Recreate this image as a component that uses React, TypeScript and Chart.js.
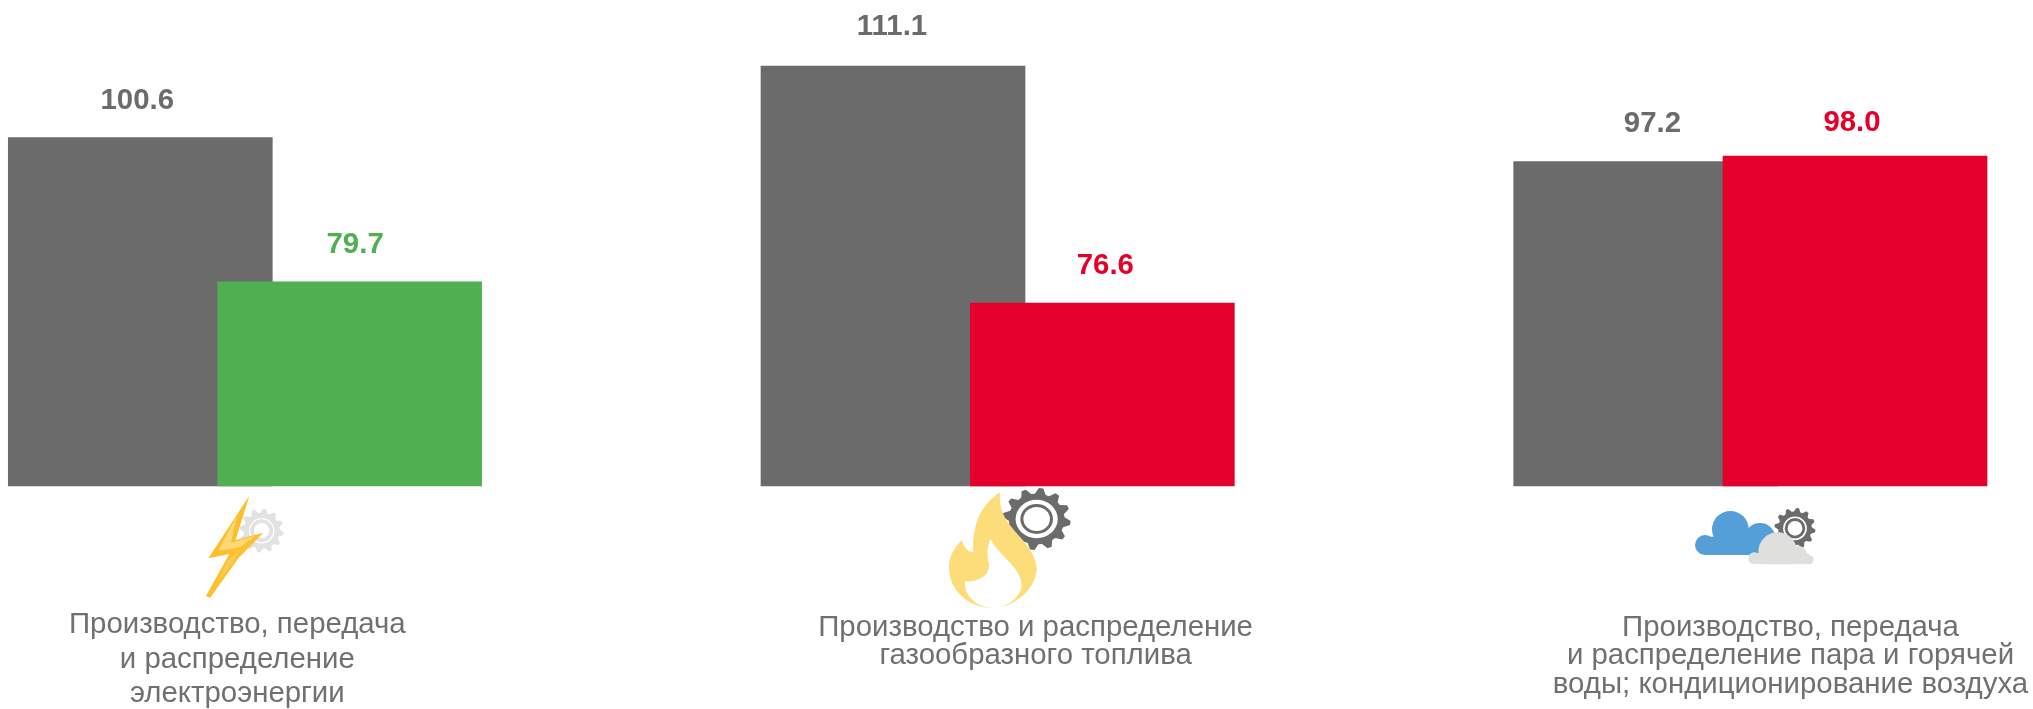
import React, { useEffect, useRef } from "react";
import { Chart, registerables } from "chart.js";

Chart.register(...registerables);

// Group positions on the x axis, one per industry.
const groupPositions = [0, 1, 2];
// The bars in the picture are not proportional to their printed numbers,
// so the printed numbers and the drawn heights are kept as separate lists.
const priorValues = ["100.6", "111.1", "97.2"];
const currentValues = ["79.7", "76.6", "98.0"];
const priorHeights = [100.7, 121.4, 93.8];
const currentHeights = [59.0, 52.9, 95.4];
const currentOffset = 0.2781;
const currentColors = ["#4faf51", "#e4002b", "#e4002b"];
const categoryLines = [
  ["Производство, передача", "и распределение", "электроэнергии"],
  ["Производство и распределение", "газообразного топлива"],
  ["Производство, передача", "и распределение пара и горячей", "воды; кондиционирование воздуха"],
];

const GREY = "#6b6b6b";
const TEXT = "#707070";
const FONT = '"Liberation Sans", Arial, sans-serif';
const W = 2033;
const H = 709;
const PX_PER_UNIT = 3.459;
const BASE_Y = 486;
const GROUP_PX = 752.7;
const FIRST_CENTER = 140.3;

const priorLabelShift = [[-3, -36.8], [-1, -39.5], [6.7, -37.4]];
const currentLabelShift = [[5.5, -36.9], [3, -36.8], [-3, -33.5]];
const categoryLayout = [
  { x: 237.3, ys: [625, 659.5, 694] },
  { x: 1035.6, ys: [627.5, 656] },
  { x: 1790.5, ys: [628, 656, 684.5] },
];

type Ctx = CanvasRenderingContext2D;

function gear(c: Ctx, cx: number, cy: number, rx: number, ry: number, color: string, teeth: number, ring: number[]) {
  c.fillStyle = color;
  c.beginPath();
  const n = teeth * 4;
  for (let i = 0; i < n; i++) {
    const a = ((i + 0.5) / n) * Math.PI * 2;
    const outer = i % 4 === 0 || i % 4 === 1;
    const r = outer ? 1 : 0.82;
    const x = cx + Math.cos(a) * rx * r;
    const y = cy + Math.sin(a) * ry * r;
    if (i === 0) c.moveTo(x, y);
    else c.lineTo(x, y);
  }
  c.closePath();
  c.fill();
  const fills = ["#ffffff", color, "#ffffff"];
  ring.forEach((f, i) => {
    c.fillStyle = fills[i];
    c.beginPath();
    c.ellipse(cx, cy, rx * f, ry * f, 0, 0, Math.PI * 2);
    c.fill();
  });
}

function poly(c: Ctx, ox: number, oy: number, pts: number[][], color: string) {
  c.fillStyle = color;
  c.beginPath();
  pts.forEach((p, i) => {
    const x = ox + p[0] / 3;
    const y = oy + p[1] / 3;
    if (i === 0) c.moveTo(x, y);
    else c.lineTo(x, y);
  });
  c.closePath();
  c.fill();
}

function bolt(c: Ctx) {
  const ox = 195;
  const oy = 490;
  gear(c, ox + 200 / 3, oy + 122 / 3, 22, 22, "#e2e2e2", 12, [0.58, 0.52, 0.35]);
  poly(c, ox, oy, [[163, 17], [40, 205], [103, 192], [33, 318], [45, 324], [130, 205], [205, 128], [122, 150]], "#fdbf2d");
  poly(c, ox, oy, [[125, 78], [70, 182], [135, 172], [180, 138], [108, 158]], "#fdd975");
  poly(c, ox, oy, [[95, 215], [135, 178], [115, 215], [70, 275]], "#fdcb4f");
}

function flame(c: Ctx) {
  const ox = 940;
  const oy = 484;
  const X = (v: number) => ox + v / 3;
  const Y = (v: number) => oy + v / 3;
  gear(c, X(290), Y(105), 34, 31, GREY, 12, [0.62, 0.48, 0.39]);
  c.fillStyle = "#fddc7a";
  c.beginPath();
  c.moveTo(X(180), Y(25));
  c.bezierCurveTo(X(175), Y(90), X(205), Y(120), X(250), Y(170));
  c.bezierCurveTo(X(285), Y(210), X(295), Y(250), X(288), Y(270));
  c.bezierCurveTo(X(275), Y(330), X(210), Y(372), X(160), Y(372));
  c.bezierCurveTo(X(85), Y(372), X(27), Y(320), X(27), Y(250));
  c.bezierCurveTo(X(27), Y(215), X(45), Y(190), X(65), Y(168));
  c.bezierCurveTo(X(72), Y(190), X(85), Y(205), X(100), Y(205));
  c.bezierCurveTo(X(95), Y(120), X(125), Y(60), X(180), Y(25));
  c.closePath();
  c.fill();
  c.fillStyle = "#ffffff";
  c.beginPath();
  c.moveTo(X(152), Y(165));
  c.bezierCurveTo(X(170), Y(210), X(245), Y(250), X(245), Y(305));
  c.bezierCurveTo(X(240), Y(345), X(195), Y(372), X(160), Y(372));
  c.bezierCurveTo(X(115), Y(372), X(72), Y(340), X(75), Y(292));
  c.bezierCurveTo(X(105), Y(295), X(150), Y(280), X(147), Y(240));
  c.bezierCurveTo(X(140), Y(215), X(140), Y(190), X(152), Y(165));
  c.closePath();
  c.fill();
}

function cloudShape(c: Ctx, ox: number, oy: number, circles: number[][], base: number[], color: string) {
  c.save();
  c.beginPath();
  c.rect(ox, oy, 140, base[3] / 3);
  c.clip();
  c.fillStyle = color;
  circles.forEach((k) => {
    c.beginPath();
    c.arc(ox + k[0] / 3, oy + k[1] / 3, k[2] / 3, 0, Math.PI * 2);
    c.fill();
  });
  c.fillRect(ox + base[0] / 3, oy + base[1] / 3, (base[2] - base[0]) / 3, (base[3] - base[1]) / 3);
  c.restore();
}

function clouds(c: Ctx) {
  const ox = 1685;
  const oy = 500;
  gear(c, ox + 330 / 3, oy + 85 / 3, 20.5, 20.5, GREY, 12, [0.58, 0.5, 0.36]);
  cloudShape(c, ox, oy, [[136, 88, 55], [60, 135, 30], [225, 115, 46]], [60, 110, 255, 165], "#549fd8");
  cloudShape(c, ox, oy, [[278, 155, 58], [338, 165, 28], [208, 175, 18], [372, 179, 14]], [208, 160, 372, 193], "#dfdfdd");
}

function text(c: Ctx, s: string, x: number, y: number, font: string, color: string) {
  c.font = font;
  c.fillStyle = color;
  c.textAlign = "center";
  c.textBaseline = "middle";
  c.fillText(s, x, y);
}

const annotations = {
  id: "annotations",
  afterDatasetsDraw(chart: Chart) {
    const c = chart.ctx as Ctx;
    c.save();
    const current = chart.getDatasetMeta(0).data;
    const prior = chart.getDatasetMeta(1).data;
    prior.forEach((bar: any, i: number) => {
      text(c, priorValues[i], bar.x + priorLabelShift[i][0], bar.y + priorLabelShift[i][1], `bold 29.4px ${FONT}`, GREY);
    });
    current.forEach((bar: any, i: number) => {
      text(c, currentValues[i], bar.x + currentLabelShift[i][0], bar.y + currentLabelShift[i][1], `bold 29.4px ${FONT}`, currentColors[i]);
    });
    bolt(c);
    flame(c);
    clouds(c);
    categoryLines.forEach((lines, i) => {
      lines.forEach((line, j) => {
        text(c, line, categoryLayout[i].x, categoryLayout[i].ys[j], `29.4px ${FONT}`, TEXT);
      });
    });
    c.restore();
  },
};

export default function App() {
  const ref = useRef<HTMLCanvasElement>(null);
  useEffect(() => {
    document.body.style.margin = "0";
    const chart = new Chart(ref.current as HTMLCanvasElement, {
      type: "bar",
      data: {
        datasets: [
          {
            label: "Текущий период",
            data: currentHeights.map((h, i) => ({ x: groupPositions[i] + currentOffset, y: h })),
            backgroundColor: currentColors,
            barThickness: 264,
            grouped: false,
            order: 1,
          },
          {
            label: "Предыдущий период",
            data: priorHeights.map((h, i) => ({ x: groupPositions[i], y: h })),
            backgroundColor: GREY,
            barThickness: 264,
            grouped: false,
            order: 2,
          },
        ],
      } as any,
      options: {
        animation: false,
        responsive: false,
        layout: { padding: 0 },
        plugins: { legend: { display: false }, tooltip: { enabled: false } },
        scales: {
          x: {
            type: "linear",
            display: false,
            offset: false,
            min: -FIRST_CENTER / GROUP_PX,
            max: (W - FIRST_CENTER) / GROUP_PX,
          },
          y: {
            display: false,
            min: -(H - BASE_Y) / PX_PER_UNIT,
            max: BASE_Y / PX_PER_UNIT,
          },
        },
      },
      plugins: [annotations],
    } as any);
    return () => chart.destroy();
  }, []);
  return <canvas ref={ref} width={W} height={H} style={{ display: "block", width: W, height: H }} />;
}
